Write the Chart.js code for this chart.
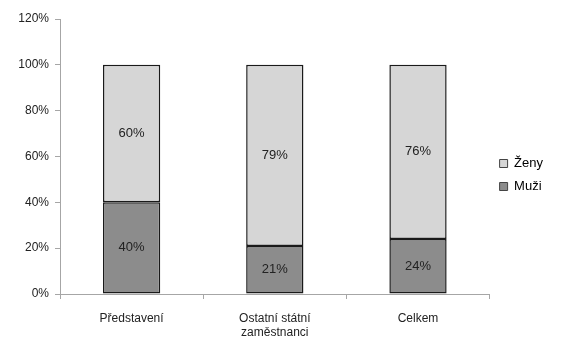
<!DOCTYPE html>
<html>
<head>
<meta charset="utf-8">
<script src="https://cdn.jsdelivr.net/npm/chart.js@4"></script>
<style>
  html, body { margin: 0; padding: 0; background: #fff; }
  #wrap { width: 565px; height: 337px; }
</style>
</head>
<body>
<div id="wrap"><canvas id="myChart" width="565" height="337"></canvas></div>
<script>
var labels = [['Představení'], ['Ostatní státní', 'zaměstnanci'], ['Celkem']]
var muzi = [40, 21, 24]
var zeny = [60, 79, 76]
var yTicks = [0, 20, 40, 60, 80, 100, 120]

// values written in the middle of every bar piece
var barLabels = {
    id: 'barLabels',
    afterLayout(chart) {
        // legend sits a little higher than the centre
        chart.legend.top -= 3
        chart.legend.bottom -= 3
    },
    afterDatasetsDraw(chart) {
        var ctx = chart.ctx
        ctx.save()
        ctx.font = '13px "Liberation Sans", Arial, sans-serif'
        ctx.fillStyle = '#222'
        ctx.textAlign = 'center'
        ctx.textBaseline = 'middle'
        chart.data.datasets.forEach((ds, i) => {
            chart.getDatasetMeta(i).data.forEach((bar, j) => {
                var p = bar.getProps(['x', 'y', 'base'], true)
                ctx.fillText(ds.data[j] + '%', p.x, (p.y + p.base) / 2)
            })
        })
        ctx.restore()
    }
}

var ctx = document.getElementById('myChart').getContext('2d');
var myChart = new Chart(ctx, {
    type: 'bar',
    data: {
        labels: labels,
        datasets: [{
            label: 'Muži',
            data: muzi,
            backgroundColor: '#8c8c8c',
            borderColor: '#1a1a1a',
            borderWidth: 1.5,
            borderSkipped: false,
            barPercentage: 0.4,
            categoryPercentage: 1
        }, {
            label: 'Ženy',
            data: zeny,
            backgroundColor: '#d6d6d6',
            borderColor: '#1a1a1a',
            borderWidth: 1.5,
            borderSkipped: false,
            barPercentage: 0.4,
            categoryPercentage: 1
        }]
    },
    options: {
        responsive: false,
        animation: false,
        layout: { padding: { top: 19, right: 12, left: 0, bottom: 0 } },
        plugins: {
            legend: {
                position: 'right',
                reverse: true,
                labels: {
                    boxWidth: 8,
                    boxHeight: 8,
                    padding: 10,
                    color: '#222',
                    font: { family: '"Liberation Sans", Arial, sans-serif', size: 13 },
                    generateLabels(chart) {
                        return chart.data.datasets.map((ds, i) => ({
                            text: ds.label,
                            fillStyle: ds.backgroundColor,
                            strokeStyle: '#444',
                            lineWidth: 1,
                            datasetIndex: i
                        }))
                    }
                }
            },
            tooltip: { enabled: false }
        },
        scales: {
            x: {
                stacked: true,
                afterFit(scale) { scale.height = 43 },
                grid: { offset: true, drawOnChartArea: false, tickLength: 5, color: '#a6a6a6' },
                border: { color: '#a6a6a6' },
                ticks: {
                    color: '#222',
                    padding: 12,
                    maxRotation: 0,
                    font: { family: '"Liberation Sans", Arial, sans-serif', size: 12 }
                }
            },
            y: {
                stacked: true,
                min: 0,
                max: 120,
                afterFit(scale) { scale.width = 60 },
                afterBuildTicks(scale) { scale.ticks = yTicks.map(v => ({ value: v })) },
                grid: { drawOnChartArea: false, tickLength: 5, color: '#a6a6a6' },
                border: { color: '#a6a6a6' },
                ticks: {
                    color: '#222',
                    padding: 6,
                    font: { family: '"Liberation Sans", Arial, sans-serif', size: 12 },
                    callback: v => v + '%'
                }
            }
        }
    },
    plugins: [barLabels]
});
</script>
</body>
</html>
